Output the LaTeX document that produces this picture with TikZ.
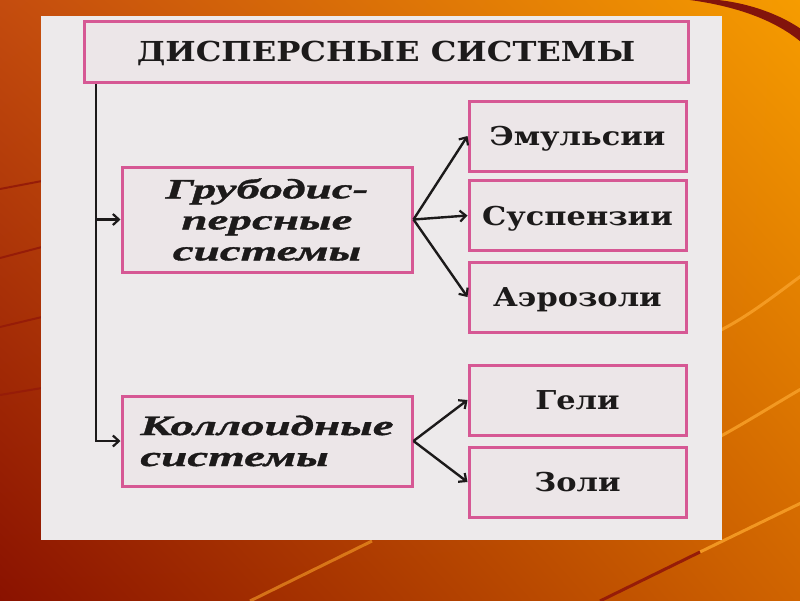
\documentclass[tikz,border=0pt]{standalone}
\usepackage{fontspec}
\setmainfont{DejaVu Serif}
\newfontfamily\boxfont[FakeStretch=1.17]{DejaVu Serif}
\newfontfamily\italfont[FakeStretch=1.68,FakeBold=1.3]{Liberation Serif}
\usetikzlibrary{arrows.meta,shadings}
\definecolor{bgUL}{RGB}{196,76,14}
\definecolor{bgUR}{RGB}{246,156,0}
\definecolor{bgLL}{RGB}{138,18,0}
\definecolor{bgLR}{RGB}{208,100,0}
\definecolor{swoosh}{RGB}{130,20,12}
\definecolor{streak}{RGB}{248,160,40}
\definecolor{leftline}{RGB}{150,28,8}
\definecolor{panelc}{RGB}{237,234,235}
\definecolor{boxfill}{RGB}{236,230,232}
\definecolor{boxpink}{RGB}{214,88,148}
\definecolor{ink}{RGB}{28,26,26}
\tikzset{
  pbox/.style={draw=boxpink, line width=3pt, fill=boxfill, inner sep=0pt, text=ink},
  titlebox/.style={pbox, minimum width=604pt, minimum height=61pt,
    font=\boxfont\bfseries\fontsize{27.5}{30}\selectfont, text height=20pt, text depth=0pt},
  leaf/.style={pbox, minimum width=217pt, minimum height=70pt,
    font=\boxfont\bfseries\fontsize{26}{30}\selectfont, text height=19pt, text depth=0pt},
  mid/.style={pbox, minimum width=290pt,
    font=\italfont\bfseries\itshape\fontsize{28}{31}\selectfont},
  conn/.style={-{Straight Barb[length=6pt,width=11pt,line width=2.2pt]}, line width=2.4pt, draw=ink},
  deco/.style={line width=2pt, leftline},
  light/.style={line width=3pt, streak, opacity=0.85},
}
\begin{document}
\begin{tikzpicture}[x=1pt,y=-1pt]
\useasboundingbox (0,0) rectangle (800,600);
% background
\shade[upper left=bgUL, upper right=bgUR, lower left=bgLL, lower right=bgLR] (0,0) rectangle (800,600);
% decorative swoosh top right
\fill[swoosh] (682,-1) .. controls (725,4) and (770,16) .. (801,42) -- (801,29) .. controls (770,8) and (730,-1) .. (700,-1) -- cycle;
% dark lines on the left
\draw[deco] (0,189) -- (42,181);
\draw[deco] (0,258) -- (42,247);
\draw[deco] (0,327) -- (42,317);
\draw[deco] (0,395) -- (42,388);
% light streaks right and bottom
\draw[light] (721,330) .. controls (750,315) and (775,295) .. (801,276);
\draw[light] (721,436) .. controls (750,420) and (775,404) .. (801,389);
\draw[light] (700,552) -- (801,503);
\draw[deco, line width=3pt] (600,601) -- (700,552);
\draw[light, opacity=0.6] (250,601) -- (372,541);
% scanned panel
\fill[panelc] (41,16) rectangle (722,540);
% nodes
\node[titlebox] (title) at (386,51.5) {ДИСПЕРСНЫЕ СИСТЕМЫ};
\node[mid, minimum height=105pt, align=center] (grub) at (267,219.5) {Грубодис-\\персные\\системы};
\node[mid, minimum height=90pt, align=left] (koll) at (267,441) {Коллоидные\\системы};
\node[leaf] (emu) at (577.5,136) {Эмульсии};
\node[leaf] (sus) at (577.5,215.5) {Суспензии};
\node[leaf] (aer) at (577.5,297) {Аэрозоли};
\node[leaf] (gel) at (577.5,400) {Гели};
\node[leaf] (zol) at (577.5,482) {Золи};
% connectors
\coordinate (vtop) at (96,84);
\coordinate (vbranch) at (96,219.5);
\draw[conn] (vtop) |- (koll.west);
\draw[conn] (vbranch) -- (grub.west);
\draw[conn] (grub.east) -- (emu.west);
\draw[conn] (grub.east) -- (sus.west);
\draw[conn] (grub.east) -- (aer.west);
\draw[conn] (koll.east) -- (gel.west);
\draw[conn] (koll.east) -- (zol.west);
\end{tikzpicture}
\end{document}
